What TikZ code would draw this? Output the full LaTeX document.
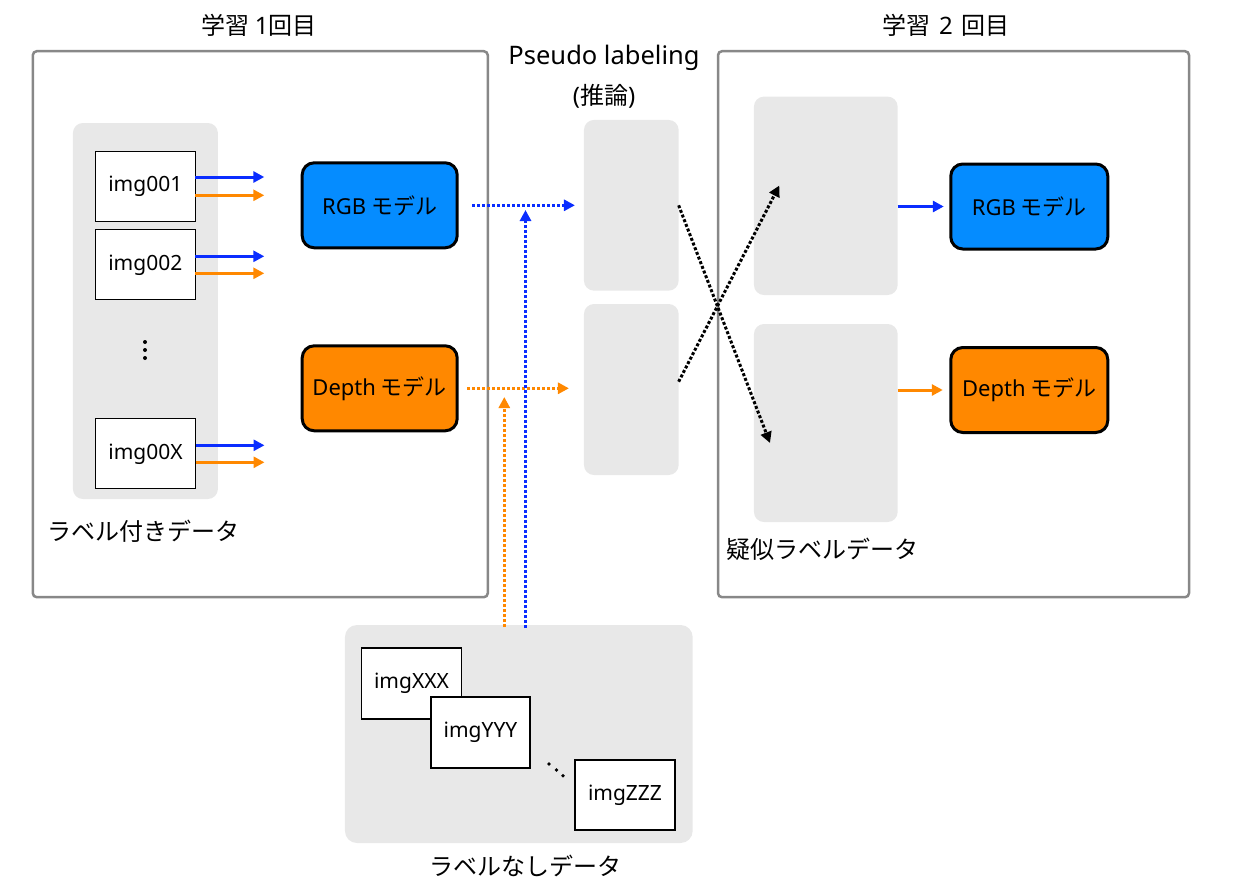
\documentclass[tikz,border=0pt]{standalone}
\usepackage{fontspec}
\setmainfont{Noto Sans CJK JP}
\newfontfamily\lat{Noto Sans}
\usetikzlibrary{arrows.meta}
\definecolor{gbox}{HTML}{E8E8E8}
\definecolor{framegray}{HTML}{888888}
\definecolor{arrblue}{HTML}{0A2DFF}
\definecolor{modblue}{HTML}{058CFF}
\definecolor{modorange}{HTML}{FF8800}
\begin{document}
\begin{tikzpicture}[x=1pt,y=-1pt,
  every node/.style={inner sep=0pt, outer sep=0pt},
  outerframe/.style={draw=framegray, line width=2.5pt, rounded corners=4pt},
  graybox/.style={fill=gbox, rounded corners=10pt},
  imgbox/.style={draw=black, fill=white, line width=1.2pt, minimum width=100pt, minimum height=70pt, font=\fontsize{21}{24}\lat},
  modelbox/.style={draw=black, line width=3pt, rounded corners=12pt, minimum width=155pt, minimum height=85pt, font=\fontsize{22}{25}\selectfont},
  titletext/.style={font=\fontsize{24}{28}\selectfont},
  labeltext/.style={font=\fontsize{24}{28}\selectfont},
  tipstyle/.style={-{Triangle[length=11pt,width=11pt]}},
  solidarrow/.style={tipstyle, line width=3pt},
  dotarrow/.style={tipstyle, line width=3pt, dash pattern=on 3pt off 2pt},
]
\useasboundingbox (0,0) rectangle (1239,889);

% frames and titles
\node[outerframe, minimum width=455pt, minimum height=546pt] (outer1) at (260.3,324.2) {};
\node[outerframe, minimum width=471pt, minimum height=546pt] (outer2) at (953.5,324.2) {};
\node[titletext] (title1) at (259,25.5) {学習 {\lat 1}回目};
\node[titletext] (title2) at (946,25.5) {学習\hspace{3pt} {\lat 2} \hspace{3pt}回目};

% labeled data
\node[graybox, minimum width=145pt, minimum height=376pt] (list1) at (145.4,311) {};
\node[imgbox] (img1) at (145.3,186.3) {img001};
\node[imgbox] (img2) at (145.3,264.8) {img002};
\node[imgbox] (imgX) at (145.5,453.8) {img00X};
\fill (145,342) circle[radius=2pt] (145,350) circle[radius=2pt] (145,358) circle[radius=2pt];
\node[labeltext, anchor=west] (lab1) at (47,531.7) {ラベル付きデータ};

% models round 1
\node[modelbox, fill=modblue] (rgb1) at (379.7,205.3) {{\lat RGB} モデル};
\node[modelbox, fill=modorange] (depth1) at (379.7,388.3) {{\lat Depth} モデル};

\foreach \n/\u/\d in {img1/9.3/-9, img2/8.5/-8.5, imgX/8.5/-8.5}{
  \draw[solidarrow, arrblue] ([yshift=\u pt]\n.east) -- ++(69,0);
  \draw[solidarrow, modorange] ([yshift=\d pt]\n.east) -- ++(69,0);
}

% pseudo labeling
\node[labeltext, font=\fontsize{25.5}{28}\lat] (pl) at (604,58) {Pseudo labeling};
\node[labeltext] (inf) at (604,96.7) {{\lat (}推論{\lat )}};
\node[graybox, minimum width=94.7pt, minimum height=170.7pt] (mid1) at (631.3,205.3) {};
\node[graybox, minimum width=94.7pt, minimum height=171pt] (mid2) at (631.3,389.5) {};

% round 2
\node[graybox, minimum width=143.7pt, minimum height=198.4pt] (r1) at (825.8,195.8) {};
\node[graybox, minimum width=143.7pt, minimum height=198pt] (r2) at (825.8,423) {};
\node[modelbox, fill=modblue, minimum width=157pt] (rgb2) at (1029.3,206.5) {{\lat RGB} モデル};
\node[modelbox, fill=modorange, minimum width=157pt] (depth2) at (1029.3,390) {{\lat Depth} モデル};
\node[labeltext, anchor=west] (lab2) at (726,549.5) {疑似ラベルデータ};

\draw[solidarrow, arrblue] (r1.east |- rgb2.west) -- ([xshift=-7pt]rgb2.west);
\draw[solidarrow, modorange] (r2.east |- depth2.west) -- ([xshift=-8pt]depth2.west);

% unlabeled data
\node[graybox, rounded corners=12pt, minimum width=347.7pt, minimum height=218pt] (unl) at (518.8,734) {};
\node[imgbox, minimum width=100.4pt, minimum height=71pt] (imgXXX) at (411.5,683.5) {imgXXX};
\node[imgbox, minimum width=99pt, minimum height=71pt] (imgYYY) at (480.5,732.5) {imgYYY};
\node[imgbox] (imgZZZ) at (625,795) {imgZZZ};
\fill (549,764) circle[radius=1.8pt] (556.5,770) circle[radius=1.8pt] (563,775.7) circle[radius=1.8pt];
\node[labeltext] (lab3) at (525.5,866) {ラベルなしデータ};

% dotted connectors
\coordinate (bvtip) at (525.5,210);
\coordinate (ovtip) at (504.3,397);
\coordinate (xtipA) at (770,443);
\coordinate (xtipB) at (779.3,185.5);
\draw[dotarrow, arrblue] ([xshift=15pt]rgb1.east) -- ([xshift=-9pt]rgb1.east -| mid1.west);
\draw[dotarrow, modorange] ([xshift=10pt]depth1.east) -- ([xshift=-15pt]depth1.east -| mid2.west);
\draw[dotarrow, arrblue] ([xshift=6.7pt,yshift=-3pt]unl.north) -- (bvtip);
\draw[dotarrow, modorange] ([xshift=-14.5pt,yshift=-2pt]unl.north) -- (ovtip);
\draw[dotarrow, black] (mid1.east) -- (xtipA);
\draw[dotarrow, black] ([yshift=7.8pt]mid2.east) -- (xtipB);
\end{tikzpicture}
\end{document}
